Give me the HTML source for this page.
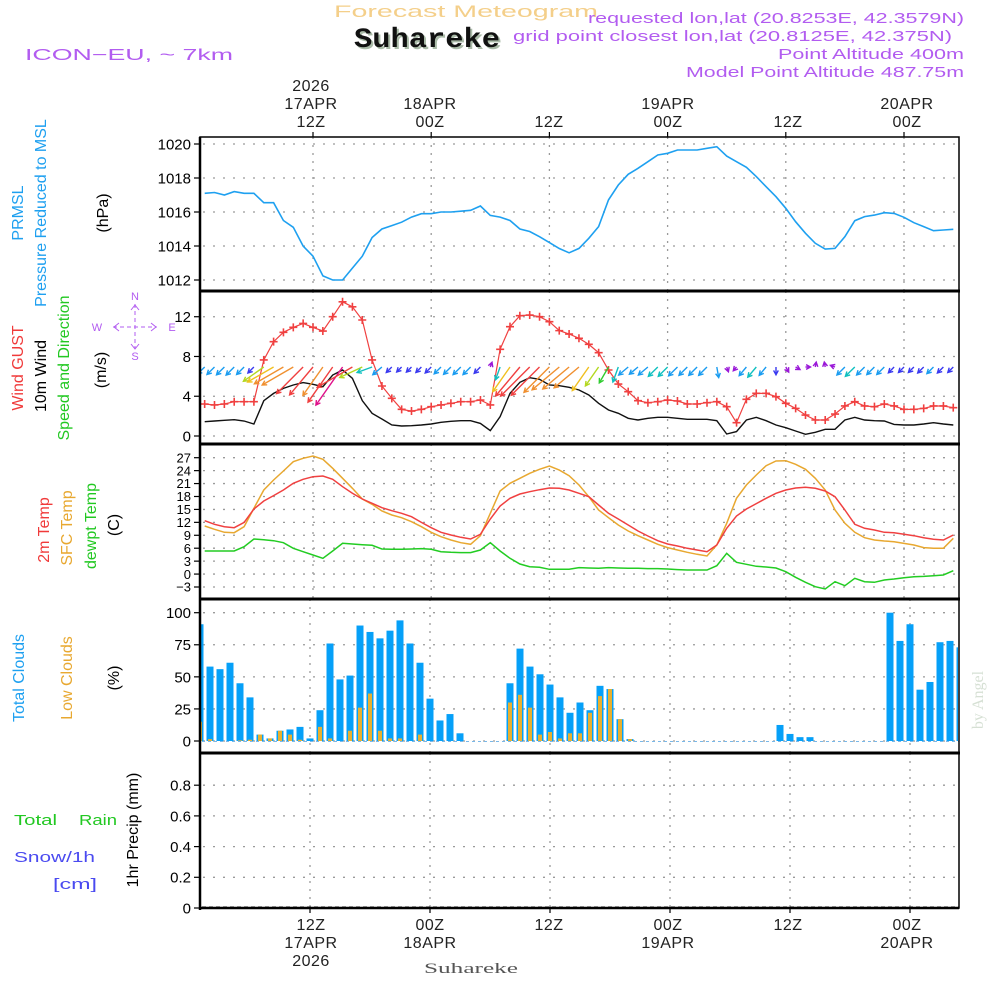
<!DOCTYPE html>
<html><head><meta charset="utf-8">
<style>
html,body{margin:0;padding:0;background:#fff;}
svg{display:block;}
text{font-family:"Liberation Sans",sans-serif;}
text.mono{font-family:"Liberation Mono",monospace;}
text.serif{font-family:"Liberation Serif",serif;}
</style></head>
<body>
<svg id="chart" width="1000" height="1000" viewBox="0 0 1000 1000" xmlns="http://www.w3.org/2000/svg">
<rect x="0" y="0" width="1000" height="1000" fill="#fff"/>
<text x="334" y="17" font-size="17" fill="#f4cf8a" textLength="264" lengthAdjust="spacingAndGlyphs">Forecast Meteogram</text>
<text class="mono" x="356" y="49" font-size="28" font-weight="bold" fill="#aabba8" textLength="146" lengthAdjust="spacingAndGlyphs">Suhareke</text>
<text class="mono" x="354" y="47" font-size="28" font-weight="bold" fill="#111" textLength="146" lengthAdjust="spacingAndGlyphs">Suhareke</text>
<text x="25" y="60" font-size="16" fill="#b25cf0" textLength="208" lengthAdjust="spacingAndGlyphs">ICON−EU, ~ 7km</text>
<g font-size="15" fill="#b25cf0">
<text x="588" y="23" textLength="376" lengthAdjust="spacingAndGlyphs">requested lon,lat (20.8253E, 42.3579N)</text>
<text x="513" y="41" textLength="439" lengthAdjust="spacingAndGlyphs">grid point closest lon,lat (20.8125E, 42.375N)</text>
<text x="778" y="59" textLength="186" lengthAdjust="spacingAndGlyphs">Point Altitude 400m</text>
<text x="686" y="77" textLength="278" lengthAdjust="spacingAndGlyphs">Model Point Altitude 487.75m</text>
</g>
<g font-size="16">
<text transform="translate(23,213) rotate(-90)" text-anchor="middle" fill="#1ea0f0">PRMSL</text>
<text transform="translate(46,213) rotate(-90)" text-anchor="middle" fill="#1ea0f0">Pressure Reduced to MSL</text>
<text transform="translate(108,213) rotate(-90)" text-anchor="middle" fill="#000">(hPa)</text>
<text transform="translate(23,368) rotate(-90)" text-anchor="middle" fill="#f03a3a">Wind GUST</text>
<text transform="translate(46,376) rotate(-90)" text-anchor="middle" fill="#000">10m Wind</text>
<text transform="translate(69,368) rotate(-90)" text-anchor="middle" fill="#22c822">Speed and Direction</text>
<text transform="translate(106,370) rotate(-90)" text-anchor="middle" fill="#000">(m/s)</text>
<text transform="translate(49,530) rotate(-90)" text-anchor="middle" fill="#f03a3a">2m Temp</text>
<text transform="translate(72,528) rotate(-90)" text-anchor="middle" fill="#e8a830">SFC Temp</text>
<text transform="translate(96,526) rotate(-90)" text-anchor="middle" fill="#22c822">dewpt Temp</text>
<text transform="translate(119,525) rotate(-90)" text-anchor="middle" fill="#000">(C)</text>
<text transform="translate(24,678) rotate(-90)" text-anchor="middle" fill="#1ea0f0">Total Clouds</text>
<text transform="translate(72,678) rotate(-90)" text-anchor="middle" fill="#e8a830">Low Clouds</text>
<text transform="translate(119,678) rotate(-90)" text-anchor="middle" fill="#000">(%)</text>
<text transform="translate(138,830) rotate(-90)" text-anchor="middle" fill="#000">1hr Precip (mm)</text>
</g>
<g font-size="15">
<text x="14" y="825" fill="#22c822" textLength="43" lengthAdjust="spacingAndGlyphs">Total</text>
<text x="79" y="825" fill="#22c822" textLength="38" lengthAdjust="spacingAndGlyphs">Rain</text>
<text x="14" y="862" fill="#4a4af0" textLength="81" lengthAdjust="spacingAndGlyphs">Snow/1h</text>
<text x="53" y="889" fill="#4a4af0" textLength="44" lengthAdjust="spacingAndGlyphs">[cm]</text>
</g>
<g fill="#b25cf0" stroke="#b25cf0" font-size="11">
<text x="135" y="300" text-anchor="middle" stroke="none">N</text>
<text x="135" y="360" text-anchor="middle" stroke="none">S</text>
<text x="97" y="331" text-anchor="middle" stroke="none">W</text>
<text x="172" y="331" text-anchor="middle" stroke="none">E</text>
<line x1="135" y1="304" x2="135" y2="349" stroke-dasharray="4 3" fill="none"/>
<line x1="113" y1="327" x2="157" y2="327" stroke-dasharray="4 3" fill="none"/>
<polyline points="131,310 135,305 139,310" fill="none"/>
<polyline points="131,344 135,349 139,344" fill="none"/>
<polyline points="119,323 114,327 119,331" fill="none"/>
<polyline points="151,323 156,327 151,331" fill="none"/>
</g>
<text class="serif" transform="translate(983,700) rotate(-90)" text-anchor="middle" font-size="16" fill="#d6e0d4">by Angel</text>
<text class="serif" x="424" y="973" font-size="15" fill="#555" textLength="94" lengthAdjust="spacingAndGlyphs">Suhareke</text>
<g id="plot"></g>
</svg>
<script>
const pressure = [1017.1,1017.15,1017.0,1017.2,1017.1,1017.1,1016.55,1016.55,1015.5,1015.1,1014.0,1013.4,1012.24,1012.0,1012.0,1012.7,1013.4,1014.5,1015.0,1015.2,1015.4,1015.7,1015.9,1015.9,1016.0,1016.0,1016.05,1016.1,1016.35,1015.8,1015.7,1015.5,1015.0,1014.85,1014.55,1014.2,1013.85,1013.6,1013.86,1014.45,1015.14,1016.71,1017.59,1018.22,1018.57,1018.96,1019.35,1019.45,1019.65,1019.65,1019.65,1019.75,1019.84,1019.29,1018.96,1018.63,1018.08,1017.49,1016.9,1016.22,1015.43,1014.75,1014.16,1013.82,1013.86,1014.55,1015.49,1015.73,1015.82,1015.96,1015.92,1015.69,1015.37,1015.14,1014.9,1014.94,1014.98];
const gust = [3.22,3.12,3.22,3.45,3.45,3.45,7.65,9.49,10.43,10.93,11.33,10.93,10.56,12.0,13.5,13.0,11.67,7.65,5.03,3.79,2.68,2.51,2.68,2.95,3.12,3.29,3.45,3.45,3.62,3.12,8.72,11.0,12.1,12.17,12.0,11.5,10.6,10.26,9.83,9.22,8.38,6.64,5.23,4.46,3.55,3.35,3.45,3.62,3.52,3.22,3.22,3.35,3.45,2.95,1.34,3.69,4.29,4.29,3.96,3.29,2.78,2.11,1.61,1.61,2.21,3.02,3.45,3.02,2.95,3.22,3.02,2.68,2.68,2.78,3.02,3.02,2.85];
const windSpeed = [1.44,1.51,1.58,1.64,1.51,1.21,3.55,4.29,4.79,5.13,5.37,5.20,4.96,6.14,6.64,5.8,3.55,2.28,1.71,1.11,1.01,1.04,1.11,1.21,1.38,1.48,1.54,1.54,1.27,0.54,1.95,4.29,5.4,5.87,5.7,5.13,5.06,4.9,4.63,4.12,3.29,2.62,2.28,1.78,1.61,1.78,1.88,1.88,1.78,1.68,1.68,1.68,1.54,0.2,0.44,1.61,1.88,1.54,1.11,0.84,0.5,0.17,0.37,0.67,0.67,1.61,1.88,1.61,1.54,1.51,1.17,1.11,1.11,1.21,1.34,1.21,1.11];
const windDir = [225,225,225,225,225,225,235,240,240,240,225,220,215,215,215,240,245,250,230,225,225,225,225,225,225,225,225,225,225,20,200,215,220,225,225,225,230,230,230,215,215,210,200,230,230,230,225,225,225,225,225,225,170,160,220,220,220,220,180,150,120,90,10,350,290,225,225,225,225,225,225,225,225,225,225,225,225];
const temp2m = [12.39,11.54,11.0,10.77,12.0,15.1,16.95,18.2,19.5,21.05,21.98,22.6,22.75,21.98,20.28,18.73,17.42,16.41,15.4,14.7,14.09,13.32,12.0,10.77,9.68,9.06,8.52,8.14,9.22,12.78,15.79,17.57,18.58,19.12,19.58,19.97,19.89,19.5,18.73,17.96,16.03,14.09,12.78,11.39,9.99,8.83,7.75,6.98,6.51,5.97,5.58,5.2,6.74,10.61,13.47,15.1,16.34,17.57,18.73,19.5,19.97,20.13,19.89,19.27,17.96,14.87,11.54,10.61,10.23,9.68,9.61,9.22,8.91,8.45,8.06,7.9,9.06];
const tempSfc = [11.15,10.38,9.68,9.61,11.0,15.25,19.5,21.83,23.91,26.08,26.85,27.39,26.62,24.53,22.21,19.89,17.42,16.18,14.63,13.71,13.09,12.16,11.0,9.68,8.68,7.9,7.29,6.9,8.91,14.09,19.27,21.05,22.21,23.37,24.3,25.07,24.13,22.83,20.67,17.96,14.87,13.09,11.39,9.99,8.91,7.9,6.9,6.13,5.58,5.04,4.58,4.19,6.74,11.77,17.57,20.67,22.99,25.15,26.23,26.31,25.46,24.3,22.21,19.5,14.87,11.77,9.68,8.45,7.9,7.67,7.51,7.12,6.74,6.13,5.97,5.97,8.29];
const dewpoint = [5.35,5.35,5.35,5.35,6.36,8.14,7.98,7.75,7.29,5.97,5.2,4.42,3.65,5.35,7.13,6.98,6.82,6.67,5.82,5.74,5.74,5.82,5.9,5.74,5.2,5.04,4.97,4.97,5.58,7.29,5.35,3.65,2.34,1.72,1.56,1.1,1.1,1.1,1.49,1.41,1.33,1.49,1.41,1.33,1.33,1.26,1.26,1.18,1.03,0.95,0.95,0.95,1.95,4.81,2.72,2.26,1.8,1.64,1.41,0.56,-0.76,-1.92,-2.92,-3.46,-1.77,-2.69,-0.99,-1.77,-1.92,-1.38,-1.15,-0.84,-0.6,-0.53,-0.37,-0.22,0.79];
const totalClouds = [91,58,56,61,45,34,5,2,8,9,11,2,24,76,48,51,90,85,80,86,94,76,61,33,16,21,6,0,0,0,0,45,72,58,52,44,34,22,30,24,43,40.5,17,1.5,0,0,0,0,0,0,0,0,0,0,0,0,0,0,12.5,5.5,3,3,0,0,0,0,0,0,0,100,78,91,40,46,77,78,73];
const lowClouds = [15,1.5,0,0,0.5,1,5,2,8,5,1,0,11,2,0,8,26,37,8,2,2,0,5,0,0,0,0,0,0,0,0,30,36,26,5,7,2,6,6,22,35,40.5,17,1.5,0,0,0,0,0,0,0,0,0,0,0,0,0,0,0,0,0,0,0,0,0,0,0,0,0,0,0,0,0,0,0,0,0];
const precip = [];
const pressureTicks = [1012,1014,1016,1018,1020];
const windTicks = [0,4,8,12];
const tempTicks = [-3,0,3,6,9,12,15,18,21,24,27];
const cloudTicks = [0,25,50,75,100];
const precipTicks = [0,0.2,0.4,0.6,0.8];
const gridHours = [12,24,36,48,60,72];
const topLabels = [["2026","17APR","12Z"],["","18APR","00Z"],["","","12Z"],["","19APR","00Z"],["","","12Z"],["","20APR","00Z"]];
const bottomLabels = [["12Z","17APR","2026"],["00Z","18APR",""],["12Z","",""],["00Z","19APR",""],["12Z","",""],["00Z","20APR",""]];

const NS = "http://www.w3.org/2000/svg";
const plot = document.getElementById('plot');
function el(tag, attrs, parent){ const e=document.createElementNS(NS,tag); for(const k in attrs) e.setAttribute(k,attrs[k]); (parent||plot).appendChild(e); return e; }

const L=200, R=959;
function xa(h){ return 313 + (h-12)*9.85; }
function xb(h){ return 310 + (h-12)*10; }
function yP(p){ return 280 - (p-1012)*17; }
function yW(v){ return 436 - v*9.94; }
function yT(t){ return 587 - (t+3)*4.31; }
function yC(c){ return 741 - c*1.283; }
function yR(r){ return 908 - r*153.5; }

const panels = [
 {name:'pressure', top:137, bot:291, ticks:pressureTicks, y:yP, x:xa, fmt:v=>String(v), fs:15},
 {name:'wind', top:291, bot:444, ticks:windTicks, y:yW, x:xa, fmt:v=>String(v), fs:15},
 {name:'temperature', top:444, bot:599, ticks:tempTicks, y:yT, x:xa, fmt:v=>(v<0?'−'+(-v):String(v)), fs:13},
 {name:'clouds', top:599, bot:753, ticks:cloudTicks, y:yC, x:xb, fmt:v=>String(v), fs:15},
 {name:'precip', top:753, bot:908, ticks:precipTicks, y:yR, x:xb, fmt:v=>(v===0?'0':v.toFixed(1)), fs:15}
];

const defs = el('defs',{});
panels.forEach((p,i)=>{ const c=el('clipPath',{id:'clip'+i},defs); el('rect',{x:L+1,y:p.top+1,width:R-L-2,height:p.bot-p.top-2},c); });

panels.forEach((p,i)=>{
  const g = el('g',{});
  
  
  gridHours.forEach(h=>{
    const gl = el('line',{x1:p.x(h),x2:p.x(h),y1:p.top,y2:p.bot,stroke:'#9a9a9a','stroke-width':1.3,'stroke-dasharray':'2 6'},g);
    
    
  });
  p.ticks.forEach(t=>{
    const y=p.y(t);
    if(!(p.name==='precip' && t===0)){
      const hl = el('line',{x1:L+3,x2:R,y1:y,y2:y,stroke:'#9a9a9a','stroke-width':1.3,'stroke-dasharray':'2 8'},g);
      
      
    }
    el('line',{x1:L-6,x2:L,y1:y,y2:y,stroke:'#000','stroke-width':1.2},g);
    const tx = el('text',{x:L-9,y:y+(p.fs*0.36),'text-anchor':'end','font-size':p.fs,fill:'#000'},g);
    tx.textContent = p.fmt(t);
    
    
  });
});

let pts = pressure.map((v,i)=>xa(i+1).toFixed(1)+','+yP(v).toFixed(1)).join(' ');
const pl = el('polyline',{points:pts,fill:'none',stroke:'#1ea0f0','stroke-width':1.6,'clip-path':'url(#clip0)'});



pts = windSpeed.map((v,i)=>xa(i+1).toFixed(1)+','+yW(v).toFixed(1)).join(' ');
const wl = el('polyline',{points:pts,fill:'none',stroke:'#111','stroke-width':1.4,'clip-path':'url(#clip1)'});



pts = gust.map((v,i)=>xa(i+1).toFixed(1)+','+yW(v).toFixed(1)).join(' ');
const gl = el('polyline',{points:pts,fill:'none',stroke:'#f04040','stroke-width':1.2,'clip-path':'url(#clip1)'});


gust.forEach((v,i)=>{
  const x=xa(i+1), y=yW(v);
  const m = el('path',{d:`M${x-4},${y}h8M${x},${y-4}v8`,stroke:'#f04040','stroke-width':1.6,fill:'none'});
  
  
});

function windColor(v){
  if(v<0.9) return '#9a18d8';
  if(v<1.3) return '#3a3af0';
  if(v<1.8) return '#1a9cf0';
  if(v<2.4) return '#10c0c0';
  if(v<3.0) return '#30cc30';
  if(v<3.8) return '#b4d820';
  if(v<4.6) return '#f0c020';
  if(v<5.2) return '#f09030';
  if(v<6.3) return '#f04040';
  return '#e0108a';
}
windSpeed.forEach((v,i)=>{
  const x0=xa(i+1), y0=367;
  const len=Math.max(5, v*7);
  const a=windDir[i]*Math.PI/180;
  const dx=Math.sin(a), dy=-Math.cos(a);
  const x1=x0+dx*len, y1=y0+dy*len;
  const hs=5, ang=0.5;
  const b1x=x1-hs*(dx*Math.cos(ang)-dy*Math.sin(ang)), b1y=y1-hs*(dy*Math.cos(ang)+dx*Math.sin(ang));
  const b2x=x1-hs*(dx*Math.cos(-ang)-dy*Math.sin(-ang)), b2y=y1-hs*(dy*Math.cos(-ang)+dx*Math.sin(-ang));
  const c=windColor(v);
  const ar = el('path',{d:`M${x0.toFixed(1)},${y0}L${x1.toFixed(1)},${y1.toFixed(1)}M${b1x.toFixed(1)},${b1y.toFixed(1)}L${x1.toFixed(1)},${y1.toFixed(1)}L${b2x.toFixed(1)},${b2y.toFixed(1)}`,stroke:c,'stroke-width':1.4,fill:'none','clip-path':'url(#clip1)'});
  
  
});

[[dewpoint,'#22cc22','dewpoint-line'],[tempSfc,'#e8a830','sfc-temp-line'],[temp2m,'#f04040','temp-2m-line']].forEach(([arr,col,nm])=>{
  const p = arr.map((v,i)=>xa(i+1).toFixed(1)+','+yT(v).toFixed(1)).join(' ');
  const ln = el('polyline',{points:p,fill:'none',stroke:col,'stroke-width':1.5,'clip-path':'url(#clip2)'});
  
  
});

totalClouds.forEach((v,i)=>{
  const x=xb(i+1);
  if(v>0){
    const b = el('rect',{x:x-3.5,y:yC(v),width:7,height:yC(0)-yC(v),fill:'#06a0f8','clip-path':'url(#clip3)'});
    
    
  }
  const lv=lowClouds[i];
  if(lv>0){
    const b2 = el('rect',{x:x-2,y:yC(lv),width:4,height:yC(0)-yC(lv),fill:'#e8b030','clip-path':'url(#clip3)'});
    
    
  }
});
const zl = el('line',{x1:L+2,x2:R,y1:yC(0)+0.5,y2:yC(0)+0.5,stroke:'#7ab8e8','stroke-width':1,'stroke-dasharray':'3 3'});


const pz = el('line',{x1:L+2,x2:R,y1:yR(0)-1,y2:yR(0)-1,stroke:'#000','stroke-width':1,'stroke-dasharray':'4 3'});



panels.forEach((p,i)=>{
  const f = el('rect',{x:L,y:p.top,width:R-L,height:p.bot-p.top,fill:'none',stroke:'#000','stroke-width':1.5});
  
  
});
[291,444,599,753].forEach(y=>{ el('line',{x1:L,x2:R+1,y1:y,y2:y,stroke:'#000','stroke-width':3}); });
el('line',{x1:L,x2:L,y1:137,y2:910,stroke:'#000','stroke-width':2.5});
el('line',{x1:L,x2:R,y1:908,y2:908,stroke:'#000','stroke-width':2.5});

gridHours.forEach((h,k)=>{
  const xt=[311,430,549,668,788,907][k];
  el('line',{x1:xa(h),x2:xa(h),y1:132,y2:137,stroke:'#000','stroke-width':1.2});
  el('line',{x1:xb(h),x2:xb(h),y1:908,y2:913,stroke:'#000','stroke-width':1.2});
  topLabels[k].forEach((s,j)=>{
    if(!s) return;
    const t = el('text',{x:xt,y:91+j*18,'text-anchor':'middle','font-size':16,fill:'#222','letter-spacing':'0.5'});
    t.textContent=s;
    
    
  });
  bottomLabels[k].forEach((s,j)=>{
    if(!s) return;
    const t = el('text',{x:xt,y:930+j*18,'text-anchor':'middle','font-size':16,fill:'#222','letter-spacing':'0.5'});
    t.textContent=s;
    
    
  });
});
</script>
</body></html>
